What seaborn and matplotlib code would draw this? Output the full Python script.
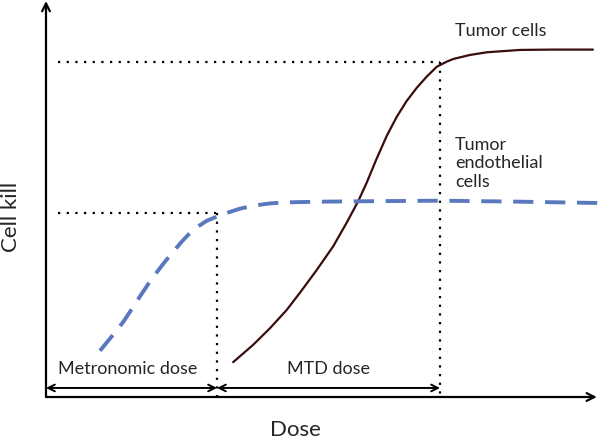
import matplotlib
matplotlib.use("Agg")
import matplotlib.pyplot as plt
import seaborn as sns
import numpy as np

# values (dose: MTD = 10, cell kill: tumor plateau = 100)
tumor_dose = [4.75, 5.26, 5.69, 6.11, 6.45, 6.87, 7.29, 7.63, 7.93, 8.14, 8.39, 8.65, 8.90,
              9.15, 9.41, 9.66, 9.92, 10.17, 10.34, 10.76, 11.19, 12.03, 12.87, 13.88]
tumor_kill = [10.4, 15.6, 20.6, 26.0, 31.2, 37.9, 45.0, 52.0, 58.6, 64.0, 71.1, 78.0, 83.6,
              88.3, 92.3, 95.6, 98.6, 100.1, 100.9, 102.1, 102.9, 103.6, 103.7, 103.7]

endo_dose = [1.37, 1.67, 1.96, 2.18, 2.39, 2.60, 2.81, 3.02, 3.23, 3.44, 3.65, 3.87, 4.08,
             4.33, 4.63, 4.92, 5.26, 5.69, 6.11, 6.95, 7.80, 10.0, 12.03, 14.06]
endo_kill = [13.8, 18.1, 22.4, 26.3, 30.1, 33.8, 37.2, 40.4, 43.4, 46.3, 48.9, 51.0, 52.6,
             53.8, 55.1, 56.2, 57.1, 57.8, 58.1, 58.3, 58.4, 58.6, 58.3, 57.9]

metronomic_max = 4.34
mtd = 10.0
tumor_plateau = 100
endo_plateau = 55

sns.set_style("white")
plt.rcParams['font.family'] = ['Lato', 'DejaVu Sans']

fig = plt.figure(figsize=(6, 4.39), dpi=100)
ax = fig.add_axes([46/600, 41/439, 554/600, 398/439])
ax.set_xlim(0, 14.06)
ax.set_ylim(0, 118.8)
ax.axis('off')

# curves
sns.lineplot(x=tumor_dose, y=tumor_kill, sort=False, color='#3a0c0c', linewidth=1.6, ax=ax)
sns.lineplot(x=endo_dose, y=endo_kill, sort=False, color='#5a78bd', linewidth=2.8,
             linestyle=(0, (5.2, 3.0)), ax=ax)

# dotted guide lines
dot = dict(color='black', linewidth=1.6, linestyle=(0, (1, 2.9)))
ax.plot([0.3, mtd], [tumor_plateau, tumor_plateau], **dot)
ax.plot([mtd, mtd], [tumor_plateau, 0], **dot)
ax.plot([0.3, metronomic_max], [endo_plateau, endo_plateau], **dot)
ax.plot([metronomic_max, metronomic_max], [endo_plateau, 0], **dot)

# axes arrows
arr = dict(arrowstyle='->', color='black', lw=1.6, mutation_scale=14, shrinkA=0, shrinkB=0)
ax.annotate('', xy=(0, 118.2), xytext=(0, 0), arrowprops=arr, annotation_clip=False)
ax.annotate('', xy=(13.98, 0), xytext=(0, 0), arrowprops=arr, annotation_clip=False)

# dose range arrows
darr = dict(arrowstyle='<->', color='black', lw=1.4, mutation_scale=12, shrinkA=0, shrinkB=0)
ax.annotate('', xy=(metronomic_max, 2.7), xytext=(0, 2.7), arrowprops=darr)
ax.annotate('', xy=(mtd, 2.7), xytext=(metronomic_max, 2.7), arrowprops=darr)

# labels
ax.text(2.07, 8.7, 'Metronomic dose', fontsize=13, ha='center', va='center')
ax.text(7.18, 8.7, 'MTD dose', fontsize=13, ha='center', va='center')
ax.text(10.38, 109.6, 'Tumor cells', fontsize=13, ha='left', va='center')
ax.text(10.38, 70.1, 'Tumor\nendothelial\ncells', fontsize=13, ha='left', va='center', linespacing=1.2)
fig.text(295/600, 1 - 430/439, 'Dose', fontsize=16, ha='center', va='center')
fig.text(11/600, 1 - 217/439, 'Cell kill', fontsize=16, ha='center', va='center', rotation=90)

plt.savefig('out.png', dpi=100)
